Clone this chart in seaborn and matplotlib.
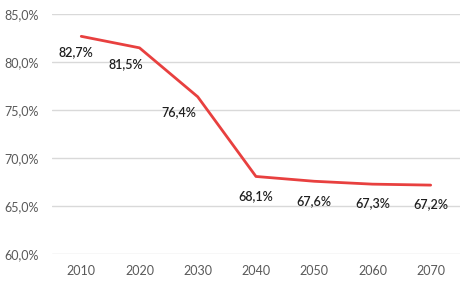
import pandas as pd
import matplotlib.pyplot as plt
import seaborn as sns
from matplotlib.ticker import FuncFormatter

# Data
years = ["2010", "2020", "2030", "2040", "2050", "2060", "2070"]
share = [82.7, 81.5, 76.4, 68.1, 67.6, 67.3, 67.2]

df = pd.DataFrame({"Year": years, "Share": share})

sns.set_theme(style="white")
plt.rcParams["font.family"] = ["Lato", "DejaVu Sans"]

fig, ax = plt.subplots(figsize=(4.74, 2.85), dpi=100)
fig.subplots_adjust(left=0.11, right=0.97, top=0.95, bottom=0.108)

sns.lineplot(data=df, x="Year", y="Share", ax=ax, color="#e8403f", linewidth=2.0, sort=False)

ax.set_ylim(60, 85)
ax.set_xlim(-0.5, len(years) - 0.5)
ax.set_yticks([60, 65, 70, 75, 80, 85])
ax.yaxis.set_major_formatter(FuncFormatter(lambda v, p: f"{v:.1f}%".replace(".", ",")))
ax.grid(axis="y", color="#d9d9d9", linewidth=1)
ax.set_axisbelow(True)
for s in ax.spines.values():
    s.set_visible(False)
ax.tick_params(axis="both", length=0, labelsize=9, labelcolor="#595959")
ax.tick_params(axis="y", pad=10)
ax.tick_params(axis="x", pad=8)
ax.set_xlabel("")
ax.set_ylabel("")

# Value labels below each point
x_shift = [-5, -14, -19, 0, 0, 0, 0]
y_shift = [-16, -16, -15, -20, -20, -19, -19]
for i, v in enumerate(share):
    ax.annotate(f"{v:.1f}%".replace(".", ","), (i, v), xytext=(x_shift[i], y_shift[i]),
                textcoords="offset pixels", ha="center", va="center",
                fontsize=9, color="#1f1f1f", fontweight="semibold")

fig.savefig("out.png", dpi=100)
